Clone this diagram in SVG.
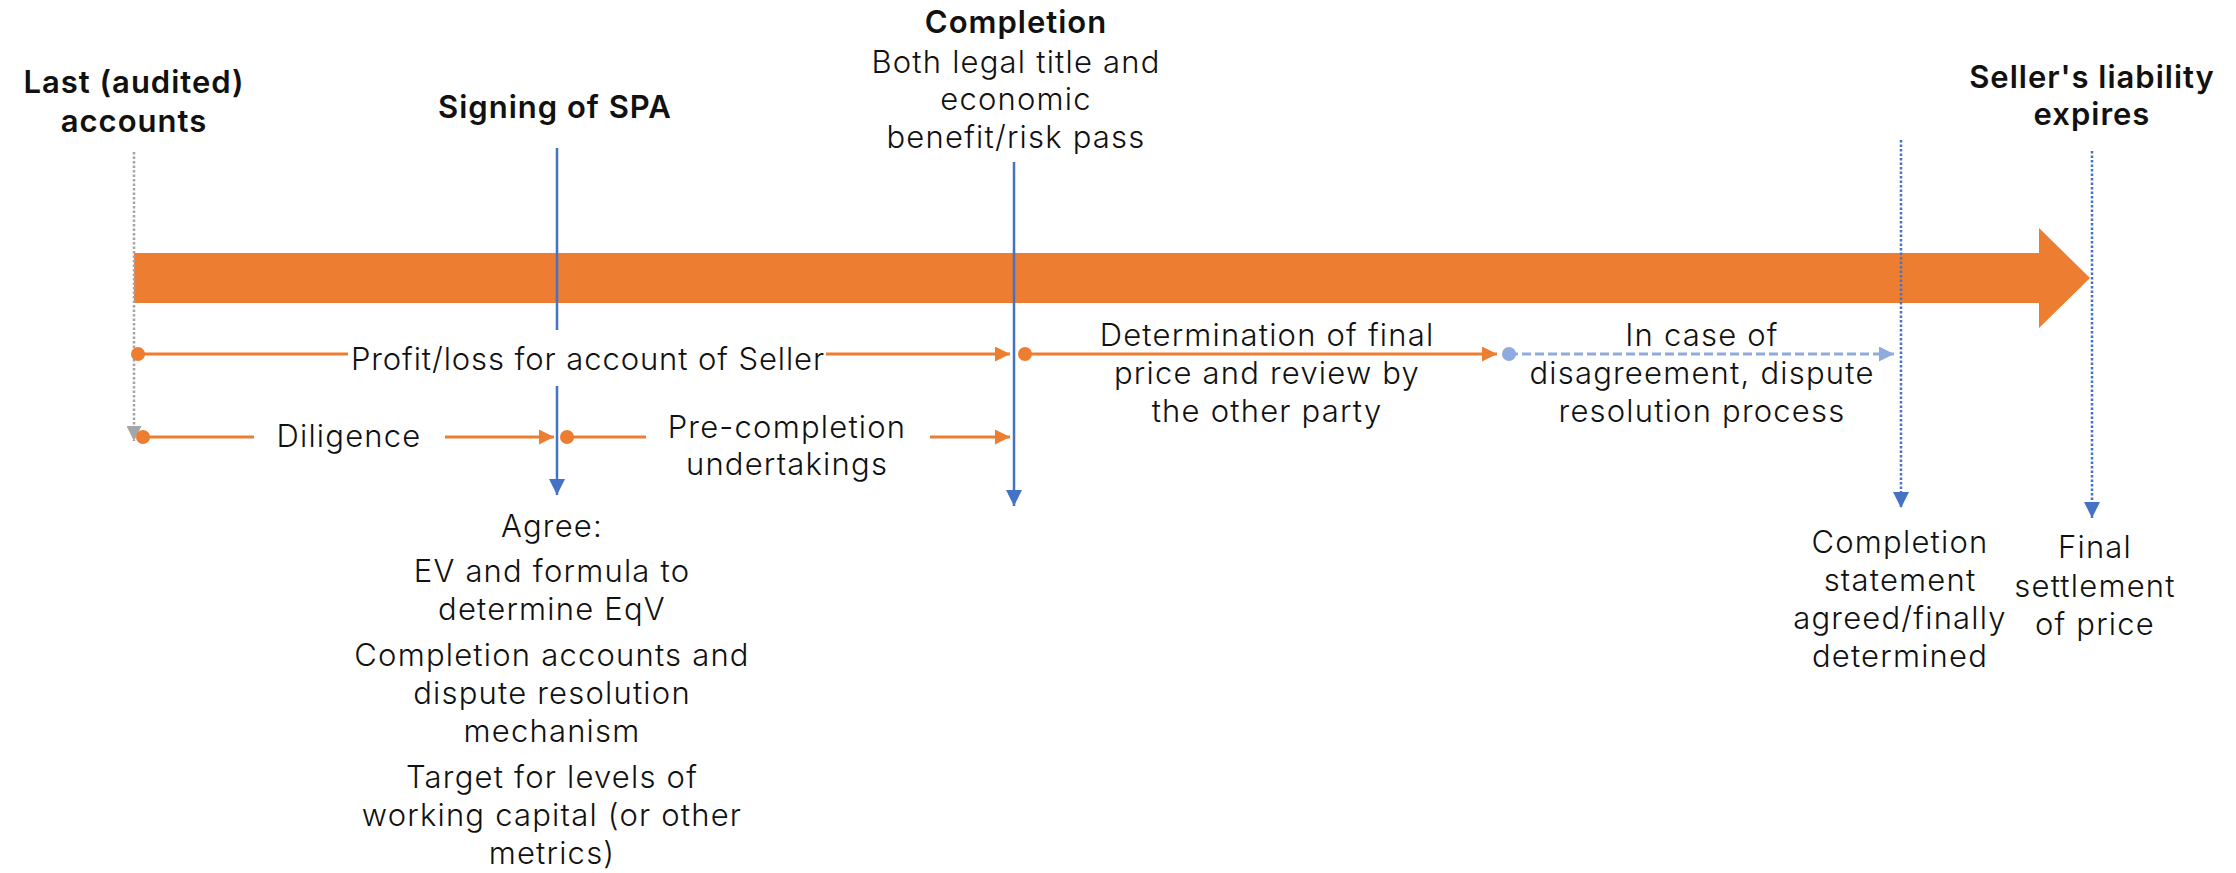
<svg xmlns="http://www.w3.org/2000/svg" width="2236" height="873" viewBox="0 0 2236 873">
<style>
text{font-family:Inter,"Open Sans","Liberation Sans",sans-serif;fill:#111;text-anchor:middle;font-size:31px}
.b{font-weight:600;letter-spacing:1px}
.l{font-weight:300;letter-spacing:1.2px}
.pl{letter-spacing:0.9px}
.or{stroke:#ED7D31;stroke-width:3;fill:none}
.bl{stroke:#4472C4;stroke-width:2.5;fill:none}
.bd{stroke:#4472C4;stroke-width:2.5;fill:none;stroke-dasharray:2.5 2}
.gd{stroke:#A5A5A5;stroke-width:2.5;fill:none;stroke-dasharray:2.5 2}
.lb{stroke:#8FAADC;stroke-width:3;fill:none;stroke-dasharray:9 4}
.wb{fill:#fff}
</style>
<defs>
<marker id="ao" viewBox="0 0 10 10" refX="10" refY="5" markerWidth="5" markerHeight="5" markerUnits="strokeWidth" orient="auto"><path d="M0,0L10,5L0,10z" fill="#ED7D31"/></marker>
<marker id="ab" viewBox="0 0 10 10" refX="10" refY="5" markerWidth="6.5" markerHeight="6.5" markerUnits="strokeWidth" orient="auto"><path d="M0,0L10,5L0,10z" fill="#4472C4"/></marker>
<marker id="ag" viewBox="0 0 10 10" refX="10" refY="5" markerWidth="6" markerHeight="6" markerUnits="strokeWidth" orient="auto"><path d="M0,0L10,5L0,10z" fill="#A5A5A5"/></marker>
<marker id="alb" viewBox="0 0 10 10" refX="10" refY="5" markerWidth="5" markerHeight="5" markerUnits="strokeWidth" orient="auto"><path d="M0,0L10,5L0,10z" fill="#8FAADC"/></marker>
</defs>

<g id="timeline">
<polygon points="134,253 2039,253 2039,228 2090,278 2039,328 2039,303 134,303" fill="#ED7D31"/>
</g>

<g id="connectors">
<line class="gd" x1="134" y1="152" x2="134" y2="441" marker-end="url(#ag)"/>
<line class="bl" x1="557" y1="148" x2="557" y2="495" marker-end="url(#ab)"/>
<line class="bl" x1="1014" y1="162" x2="1014" y2="506" marker-end="url(#ab)"/>
<line class="bd" x1="1901" y1="140" x2="1901" y2="508" marker-end="url(#ab)"/>
<line class="bd" x1="2092" y1="151" x2="2092" y2="518" marker-end="url(#ab)"/>
<line class="or" x1="138" y1="354" x2="1010" y2="354" marker-end="url(#ao)"/>
<circle cx="138" cy="354" r="7" fill="#ED7D31"/>
<line class="or" x1="143" y1="437" x2="554" y2="437" marker-end="url(#ao)"/>
<circle cx="143" cy="437" r="7" fill="#ED7D31"/>
<line class="or" x1="567" y1="437" x2="1010" y2="437" marker-end="url(#ao)"/>
<circle cx="567" cy="437" r="7" fill="#ED7D31"/>
<line class="or" x1="1025" y1="354" x2="1497" y2="354" marker-end="url(#ao)"/>
<circle cx="1025" cy="354" r="7" fill="#ED7D31"/>
<line class="lb" x1="1509" y1="354" x2="1894" y2="354" marker-end="url(#alb)"/>
<circle cx="1509" cy="354" r="7" fill="#8FAADC"/>
</g>

<g id="last-accounts">
<text class="b" x="134" y="93">Last (audited)</text>
<text class="b" x="134" y="132">accounts</text>
</g>
<g id="signing">
<text class="b" x="555" y="118">Signing of SPA</text>
</g>
<g id="completion">
<text class="b" x="1016" y="33">Completion</text>
<text class="l" x="1016" y="73">Both legal title and</text>
<text class="l" x="1016" y="110">economic</text>
<text class="l" x="1016" y="148">benefit/risk pass</text>
</g>
<g id="seller-liability">
<text class="b" x="2092" y="88">Seller's liability</text>
<text class="b" x="2092" y="125">expires</text>
</g>
<g id="profit-loss">
<rect class="wb" x="348" y="330" width="478" height="56"/>
<text class="l pl" x="588" y="370">Profit/loss for account of Seller</text>
</g>
<g id="diligence">
<rect class="wb" x="254" y="414" width="191" height="46"/>
<text class="l" x="349" y="447">Diligence</text>
</g>
<g id="pre-completion">
<rect class="wb" x="646" y="412" width="284" height="72"/>
<text class="l" x="787" y="438">Pre-completion</text>
<text class="l" x="787" y="475">undertakings</text>
</g>
<g id="determination">
<text class="l" x="1267" y="346">Determination of final</text>
<text class="l" x="1267" y="384">price and review by</text>
<text class="l" x="1267" y="422">the other party</text>
</g>
<g id="dispute">
<text class="l" x="1702" y="346">In case of</text>
<text class="l" x="1702" y="384">disagreement, dispute</text>
<text class="l" x="1702" y="422">resolution process</text>
</g>
<g id="agree">
<text class="l" x="552" y="537">Agree:</text>
<text class="l" x="552" y="582">EV and formula to</text>
<text class="l" x="552" y="620">determine EqV</text>
<text class="l" x="552" y="666">Completion accounts and</text>
<text class="l" x="552" y="704">dispute resolution</text>
<text class="l" x="552" y="742">mechanism</text>
<text class="l" x="552" y="788">Target for levels of</text>
<text class="l" x="552" y="826">working capital (or other</text>
<text class="l" x="552" y="864">metrics)</text>
</g>
<g id="completion-statement">
<text class="l" x="1900" y="553">Completion</text>
<text class="l" x="1900" y="591">statement</text>
<text class="l" x="1900" y="629">agreed/finally</text>
<text class="l" x="1900" y="667">determined</text>
</g>
<g id="final-settlement">
<text class="l" x="2095" y="558">Final</text>
<text class="l" x="2095" y="597">settlement</text>
<text class="l" x="2095" y="635">of price</text>
</g>
</svg>
